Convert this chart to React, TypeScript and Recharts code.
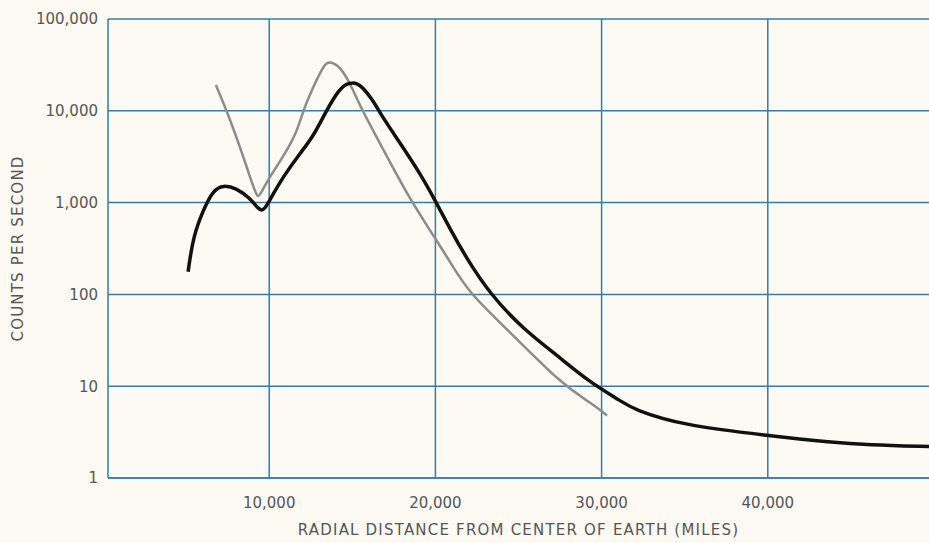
import { LineChart, Line, XAxis, YAxis, CartesianGrid, Label } from 'recharts';

// radial distance (miles) and counts per second
const blackMiles = [5120, 5420, 6030, 6630, 7230, 8040, 8840, 9340, 9540, 9740, 10040, 10840, 11850, 12650, 13450, 14260, 14650, 15040, 15450, 16240, 16660, 17870, 19070, 19970, 20880, 21900, 23290, 25270, 27320, 29300, 31110, 31890, 34900, 39950, 43930, 45980, 49700];
const blackCounts = [177, 425, 830, 1370, 1555, 1430, 1115, 860, 820, 860, 1070, 1915, 3440, 5230, 10200, 17600, 19600, 20300, 19600, 13100, 9460, 4460, 2090, 1070, 516, 243, 101, 42, 21.7, 11, 7.0, 5.6, 3.74, 2.91, 2.44, 2.3, 2.2];

const grayMiles = [6790, 7430, 8240, 8840, 9200, 9340, 9480, 10040, 10840, 11650, 12050, 12650, 13250, 13450, 13650, 13850, 14260, 14860, 15580, 16660, 18470, 20090, 20880, 22080, 24310, 27680, 29300, 30330];
const grayCounts = [19100, 10200, 4060, 1915, 1250, 1150, 1250, 1915, 3160, 5690, 10200, 18300, 30200, 33000, 34000, 33000, 30200, 20100, 10200, 4460, 1070, 384, 225, 101, 42, 10.2, 6.7, 4.8];

const xTicks = [10000, 20000, 30000, 40000];
const yTicks = [1, 10, 100, 1000, 10000, 100000];

const blackData = blackMiles.map((m, i) => ({ miles: m, counts: blackCounts[i] }));
const grayData = grayMiles.map((m, i) => ({ miles: m, counts: grayCounts[i] }));

const GRID = '#3a7aa3';
const TEXT = '#555';
const FONT = '"DejaVu Sans", sans-serif';

export default function App() {
  return (
    <div style={{ position: 'absolute', left: 0, top: 0, width: 929, height: 543, background: '#fdfaf4' }}>
      <LineChart width={929} height={543} margin={{ top: 19, right: 0, bottom: 0, left: 0 }}>
        <CartesianGrid stroke={GRID} strokeWidth={1.5} horizontalValues={yTicks} verticalValues={xTicks} />
        <XAxis
          type="number"
          dataKey="miles"
          domain={[300, 49700]}
          ticks={xTicks}
          allowDataOverflow
          height={65}
          tickLine={false}
          axisLine={{ stroke: GRID, strokeWidth: 1.5 }}
          tickMargin={13}
          tick={{ fontSize: 15, fill: TEXT, fontFamily: FONT }}
          tickFormatter={(v: number) => v.toLocaleString('en-US')}
        >
          <Label
            value="RADIAL DISTANCE FROM CENTER OF EARTH (MILES)"
            position="insideBottom"
            offset={8}
            style={{ fontSize: 15, fill: TEXT, fontFamily: FONT, letterSpacing: 1.2 }}
          />
        </XAxis>
        <YAxis
          type="number"
          dataKey="counts"
          scale="log"
          domain={[1, 100000]}
          ticks={yTicks}
          allowDataOverflow
          width={108}
          tickLine={false}
          axisLine={{ stroke: GRID, strokeWidth: 1.5 }}
          tickMargin={4}
          tick={{ fontSize: 15, fill: TEXT, fontFamily: FONT }}
          tickFormatter={(v: number) => v.toLocaleString('en-US')}
        >
          <Label
            value="COUNTS PER SECOND"
            angle={-90}
            position="insideLeft"
            offset={18}
            style={{ fontSize: 15, fill: TEXT, fontFamily: FONT, letterSpacing: 1.2, textAnchor: 'middle' }}
          />
        </YAxis>
        <Line data={grayData} dataKey="counts" type="basis" stroke="#8c8c8c" strokeWidth={2.5} dot={false} isAnimationActive={false} />
        <Line data={blackData} dataKey="counts" type="basis" stroke="#111" strokeWidth={3.5} dot={false} isAnimationActive={false} />
      </LineChart>
    </div>
  );
}
